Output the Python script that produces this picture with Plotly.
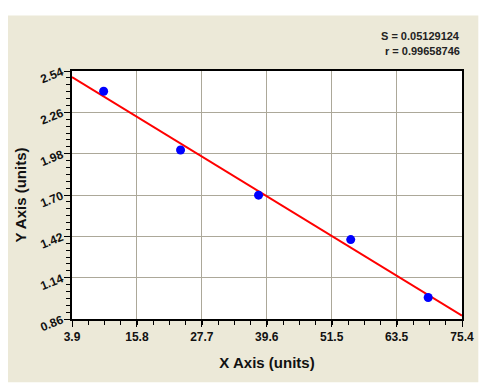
import numpy as np
import plotly.graph_objects as go

# data
x_values = [9.7, 23.8, 38.1, 55.0, 69.2]
y_values = [2.403, 2.005, 1.699, 1.398, 1.006]

x_tick_vals = [3.9, 15.8, 27.7, 39.6, 51.5, 63.4, 75.4]
x_tick_text = ["3.9", "15.8", "27.7", "39.6", "51.5", "63.5", "75.4"]
y_tick_vals = [0.86, 1.14, 1.42, 1.70, 1.98, 2.26, 2.54]
y_tick_text = ["0.86", "1.14", "1.42", "1.70", "1.98", "2.26", "2.54"]

stat_s = "S = 0.05129124"
stat_r = "r = 0.99658746"

# least-squares fit line
slope, intercept = np.polyfit(x_values, y_values, 1)
fit_x = [x_tick_vals[0], x_tick_vals[-1]]
fit_y = [slope * v + intercept for v in fit_x]

BEIGE = "#ECE9D8"
GRID = "#ACA899"
FONT = "Liberation Sans, Arial, sans-serif"

fig = go.Figure()
fig.add_trace(go.Scatter(x=fit_x, y=fit_y, mode="lines",
                         line=dict(color="#FF0000", width=2), hoverinfo="skip"))
fig.add_trace(go.Scatter(x=x_values, y=y_values, mode="markers",
                         marker=dict(color="#0000FF", size=9, symbol="circle")))

# page body has an 8px margin; compensate so the chart sits like the reference
OFF = 8
W, H = 499 - OFF, 392 - OFF
L, R, T, B = 68 - OFF, 36.5, 70.7 - OFF, 72.5
pw, ph = W - L - R, H - T - B

def px_to_paper_x(p):
    return (p - OFF - L) / pw

def px_to_paper_y(p):
    return (H - B - (p - OFF)) / ph

fig.add_shape(type="rect", xref="paper", yref="paper",
              x0=px_to_paper_x(2), x1=px_to_paper_x(479),
              y0=px_to_paper_y(383), y1=px_to_paper_y(15),
              fillcolor=BEIGE, line=dict(width=0), layer="below")
fig.add_shape(type="rect", xref="paper", yref="paper",
              x0=0, x1=1, y0=0, y1=1,
              fillcolor="white", line=dict(width=0), layer="below")

x_minor_step = (x_tick_vals[-1] - x_tick_vals[0]) / 24
y_minor_step = (y_tick_vals[1] - y_tick_vals[0]) / 6

fig.update_layout(
    width=W, height=H,
    margin=dict(l=L, r=R, t=T, b=B, pad=0),
    paper_bgcolor="white", plot_bgcolor="white",
    showlegend=False,
    font=dict(family=FONT, color="#111111"),
    xaxis=dict(
        range=[x_tick_vals[0], x_tick_vals[-1]],
        tickmode="array", tickvals=x_tick_vals, ticktext=x_tick_text,
        ticks="outside", ticklen=6, tickcolor="black", tickwidth=1,
        tickfont=dict(size=12, family=FONT, weight="bold", color="#111111"),
        showgrid=True, gridcolor=GRID, gridwidth=1,
        showline=True, linecolor="black", linewidth=1.5, mirror=True,
        zeroline=False,
        minor=dict(tickmode="linear", tick0=x_tick_vals[0], dtick=x_minor_step,
                   ticks="outside", ticklen=4, tickcolor="black", showgrid=False),
        title=dict(text="<b>X Axis (units)</b>", font=dict(size=15, family=FONT, color="#111111"),
                   standoff=14),
    ),
    yaxis=dict(
        range=[y_tick_vals[0], y_tick_vals[-1]],
        tickmode="array", tickvals=y_tick_vals, ticktext=y_tick_text,
        ticks="outside", ticklen=6, tickcolor="black", tickwidth=1,
        tickangle=-22,
        tickfont=dict(size=12, family=FONT, weight="bold", color="#111111"),
        showgrid=True, gridcolor=GRID, gridwidth=1,
        showline=True, linecolor="black", linewidth=1.5, mirror=True,
        zeroline=False,
        minor=dict(tickmode="linear", tick0=y_tick_vals[0], dtick=y_minor_step,
                   ticks="outside", ticklen=4, tickcolor="black", showgrid=False),
        title=dict(text="<b>Y Axis (units)</b>", font=dict(size=15, family=FONT, color="#111111"),
                   standoff=8),
    ),
    annotations=[
        dict(text="<b>" + stat_s + "</b>", xref="paper", yref="paper",
             x=1, y=px_to_paper_y(36), xanchor="right", yanchor="middle",
             showarrow=False, font=dict(size=11, family=FONT, color="#222222")),
        dict(text="<b>" + stat_r + "</b>", xref="paper", yref="paper",
             x=1, y=px_to_paper_y(51), xanchor="right", yanchor="middle",
             showarrow=False, font=dict(size=11, family=FONT, color="#222222")),
    ],
)

fig.write_html("out.html")
